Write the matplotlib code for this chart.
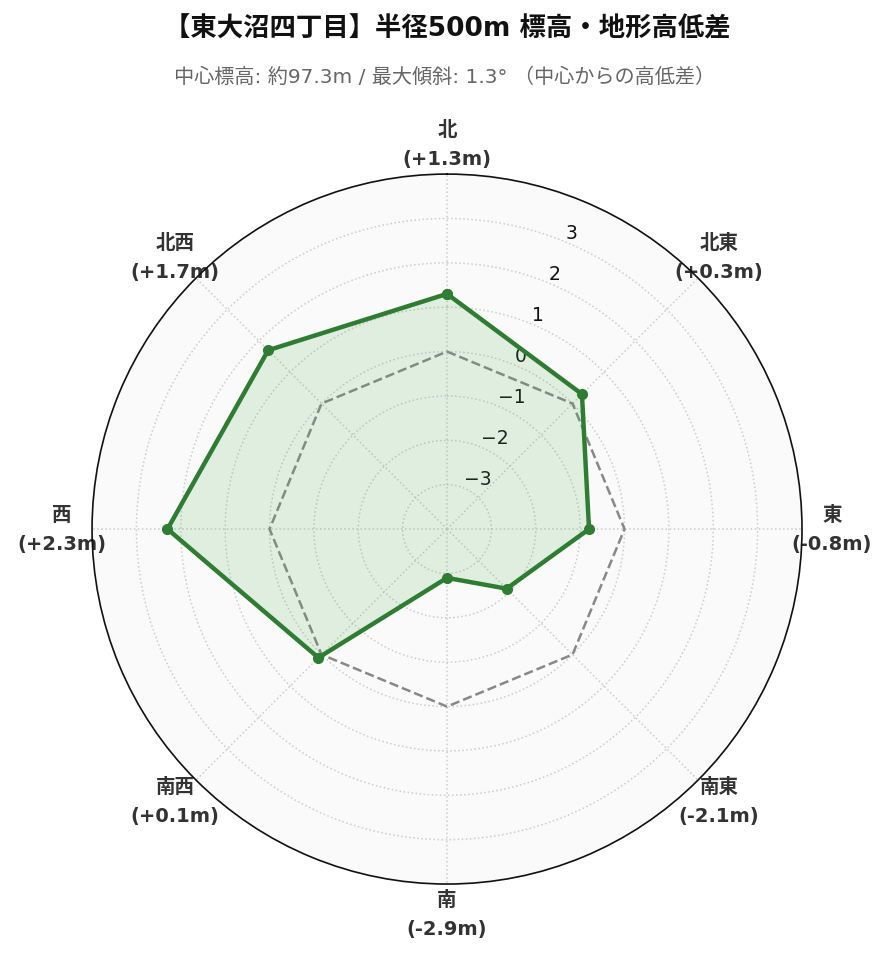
import numpy as np
import matplotlib
matplotlib.use("Agg")
import matplotlib.pyplot as plt

plt.rcParams['font.family'] = ['DejaVu Sans', 'Noto Sans CJK JP']

directions = ["北", "北東", "東", "南東", "南", "南西", "西", "北西"]
values = [1.3, 0.3, -0.8, -2.1, -2.9, 0.1, 2.3, 1.7]
r_ticks = [-3, -2, -1, 0, 1, 2, 3]
title = "【東大沼四丁目】半径500m 標高・地形高低差"
subtitle = "中心標高: 約97.3m / 最大傾斜: 1.3° （中心からの高低差）"

n = len(directions)
angles = np.arange(n) * 2 * np.pi / n
ang_c = np.concatenate([angles, angles[:1]])
val_c = np.concatenate([values, values[:1]])
zero_c = np.zeros_like(ang_c)

fig = plt.figure(figsize=(8.89, 9.62), dpi=100)
ax = fig.add_axes([0.1035, 0.080, 0.7987, 0.738], projection='polar')
ax.set_theta_zero_location('N')
ax.set_theta_direction(-1)
ax.set_facecolor('#fafafa')
ax.set_ylim(-4, 4)
ax.set_axisbelow(True)

ax.plot(ang_c, zero_c, color='#888888', linestyle='--', linewidth=1.8, zorder=2)
ax.fill(ang_c, val_c, color='#4caf50', alpha=0.15, zorder=3)
ax.plot(ang_c, val_c, color='#2e7d32', linewidth=3.2, marker='o', markersize=7, zorder=4)

ax.set_xticks(angles)
labels = [f"{d}\n({v:+.1f}m)" for d, v in zip(directions, values)]
ax.set_xticklabels(labels, fontsize=14, fontweight='bold', color='#333333', linespacing=1.65)
ax.tick_params(axis='x', pad=11)

ax.set_yticks(r_ticks)
ax.set_yticklabels([str(t).replace('-', '\u2212') for t in r_ticks], fontsize=13.5, color='#111111')
ax.set_rlabel_position(22.5)

ax.grid(True, color='#cccccc', linestyle=':', linewidth=1.1)
ax.spines['polar'].set_color('#111111')
ax.spines['polar'].set_linewidth(1.2)

fig.text(0.503, 0.969, title, ha='center', va='center', fontsize=19, fontweight='bold', color='#111111')
fig.text(0.500, 0.920, subtitle, ha='center', va='center', fontsize=14.5, color='#666666')

fig.savefig('out.png', dpi=100, facecolor='white')
